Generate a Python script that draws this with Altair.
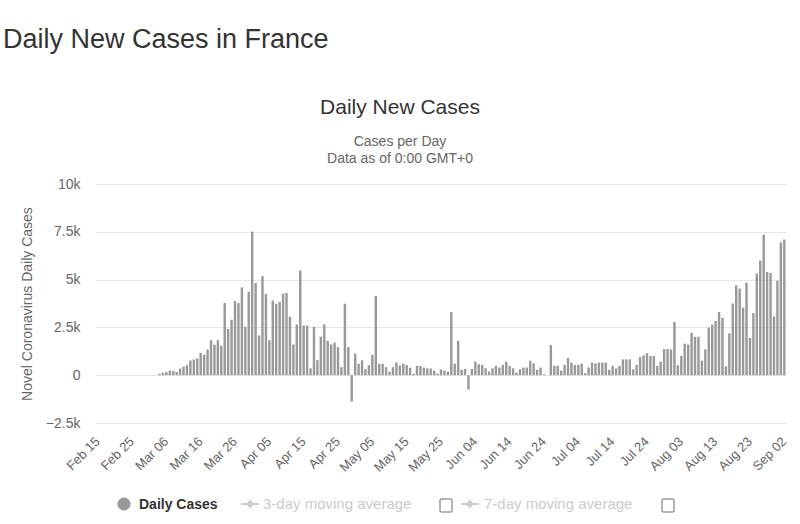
import altair as alt
import pandas as pd

# ---------------- data ----------------
dates = pd.date_range("2020-02-15", "2020-09-02", freq="D")
day_labels = [d.strftime("%b %d") for d in dates]

daily_cases = [
    0, 0, 0, 0, 0, 0, 0, 0, 0, 0,                    # Feb 15 - Feb 24
    0, 0, 0, 0, 0, 0, 0, 0, 70, 120,                 # Feb 25 - Mar 05
    170, 230, 230, 170, 350, 450, 520, 770, 820, 880,  # Mar 06 - Mar 15
    1170, 1070, 1340, 1830, 1600, 1830, 1540, 3770, 2420, 2900,  # Mar 16 - Mar 25
    3880, 3770, 4590, 2530, 4370, 7510, 4820, 2080, 5180, 4250,  # Mar 26 - Apr 04
    1830, 3900, 3740, 3830, 4260, 4300, 3060, 1610, 2650, 5480,  # Apr 05 - Apr 14
    2600, 2600, 360, 2530, 790, 2010, 2660, 1800, 1610, 1710,    # Apr 15 - Apr 24
    1470, 420, 3740, 1470, -1380, 1140, 600, 780, 310, 530,      # Apr 25 - May 04
    1070, 4140, 600, 600, 420, 180, 420, 660, 510, 600,          # May 05 - May 14
    530, 390, 80, 480, 480, 400, 360, 350, 240, 80,              # May 15 - May 24
    300, 240, 180, 3300, 600, 1800, 280, 330, -750, 330,         # May 25 - Jun 03
    710, 570, 540, 360, 190, 360, 490, 400, 540, 710,            # Jun 04 - Jun 13
    490, 360, 140, 310, 400, 400, 760, 620, 280, 400,            # Jun 14 - Jun 23
    50, 0, 1580, 490, 490, 240, 540, 900, 660, 540,              # Jun 24 - Jul 03
    540, 610, 100, 400, 660, 620, 660, 660, 660, 280,            # Jul 04 - Jul 13
    490, 360, 490, 830, 830, 830, 310, 540, 950, 1040,           # Jul 14 - Jul 23
    1150, 1000, 1000, 490, 710, 1370, 1370, 1350, 2780, 520,     # Jul 24 - Aug 02
    1010, 1650, 1600, 2220, 2010, 2010, 760, 1350, 2480, 2640,   # Aug 03 - Aug 12
    2830, 3300, 3000, 470, 2190, 3750, 4700, 4530, 3540, 4830,   # Aug 13 - Aug 22
    1950, 3250, 5320, 6000, 7350, 5400, 5350, 3070, 4950, 6950,  # Aug 23 - Sep 01
    7100,                                                        # Sep 02
]

tick_labels = day_labels[::10]
y_ticks = [-2500, 0, 2500, 5000, 7500, 10000]

page_title = "Daily New Cases in France"
chart_title = "Daily New Cases"
subtitle_1 = "Cases per Day"
subtitle_2 = "Data as of 0:00 GMT+0"
y_title = "Novel Coronavirus Daily Cases"
legend_main = "Daily Cases"
legend_3day = "3-day moving average"
legend_7day = "7-day moving average"

df = pd.DataFrame({"day": day_labels, "cases": daily_cases})
one = pd.DataFrame({"k": [0]})

FONT = "Liberation Sans, Arial, sans-serif"

bars = alt.Chart(df).mark_bar(color="#999999").encode(
    x=alt.X(
        "day:O",
        sort=None,
        scale=alt.Scale(paddingInner=0.3, paddingOuter=0.15),
        axis=alt.Axis(
            values=tick_labels,
            labelAngle=-45,
            labelAlign="right",
            labelBaseline="middle",
            labelPadding=16,
            labelOverlap=False,
            ticks=False,
            domain=False,
            grid=False,
            title=None,
            labelColor="#666666",
            labelFontSize=13,
            labelFont=FONT,
        ),
    ),
    y=alt.Y(
        "cases:Q",
        scale=alt.Scale(domain=[-2500, 10000], nice=False),
        axis=alt.Axis(
            values=y_ticks,
            labelExpr="datum.value == 0 ? '0' : format(datum.value / 1000, '~g') + 'k'",
            ticks=False,
            domain=False,
            gridColor="#e6e6e6",
            labelPadding=16,
            labelFontSize=14,
            labelFont=FONT,
            labelColor="#666666",
            title=y_title,
            titleFont=FONT,
            titleFontSize=14,
            titleFontWeight="normal",
            titleColor="#666666",
            titleAngle=270,
            titleX=-69,
            titleY=119.5,
            titleAlign="center",
            titleBaseline="middle",
        ),
    ),
    tooltip=["day:N", "cases:Q"],
)


def txt(s, x, y, size, color, align="center", weight="normal", font=FONT):
    return alt.Chart(one).mark_text(
        text=s, align=align, baseline="alphabetic", fontSize=size,
        color=color, fontWeight=weight, font=font,
    ).encode(x=alt.value(x), y=alt.value(y))


t_page = txt(page_title, -93, -136, 27, "#333333", align="left")
t_chart = txt(chart_title, 304, -70, 21, "#333333")
t_sub1 = txt(subtitle_1, 304, -38, 14, "#666666")
t_sub2 = txt(subtitle_2, 304, -21, 14, "#666666")

# legend
leg_dot = alt.Chart(one).mark_point(filled=True, shape="circle", size=170, color="#999999", opacity=1).encode(
    x=alt.value(28), y=alt.value(320))
leg_t1 = txt(legend_main, 43, 325, 14, "#333333", align="left", weight="bold")

leg_l3 = alt.Chart(one).mark_rule(color="#cccccc", strokeWidth=2).encode(
    x=alt.value(145), x2=alt.value(163), y=alt.value(320))
leg_d3 = alt.Chart(one).mark_point(filled=True, shape="diamond", size=70, color="#cccccc", opacity=1).encode(
    x=alt.value(154), y=alt.value(320))
leg_t3 = txt(legend_3day, 167, 325, 15, "#cccccc", align="left")
leg_b3 = alt.Chart(one).mark_rect(fill="white", stroke="#666666", strokeWidth=1, cornerRadius=1).encode(
    x=alt.value(344), x2=alt.value(356), y=alt.value(315), y2=alt.value(328))

leg_l7 = alt.Chart(one).mark_rule(color="#cccccc", strokeWidth=2).encode(
    x=alt.value(365), x2=alt.value(383), y=alt.value(320))
leg_d7 = alt.Chart(one).mark_point(filled=True, shape="diamond", size=70, color="#cccccc", opacity=1).encode(
    x=alt.value(374), y=alt.value(320))
leg_t7 = txt(legend_7day, 388, 325, 15, "#cccccc", align="left")
leg_b7 = alt.Chart(one).mark_rect(fill="white", stroke="#666666", strokeWidth=1, cornerRadius=1).encode(
    x=alt.value(566), x2=alt.value(578), y=alt.value(315), y2=alt.value(328))

chart = alt.layer(
    bars, t_page, t_chart, t_sub1, t_sub2,
    leg_dot, leg_t1, leg_l3, leg_d3, leg_t3, leg_b3, leg_l7, leg_d7, leg_t7, leg_b7,
).properties(
    width=690,
    height=239,
    autosize=alt.AutoSizeParams(type="none"),
    padding={"left": 96, "top": 184, "right": 14, "bottom": 101},
    background="white",
).configure_view(stroke=None)

chart.save("out.html", embed_options={"renderer": "svg", "actions": False})
